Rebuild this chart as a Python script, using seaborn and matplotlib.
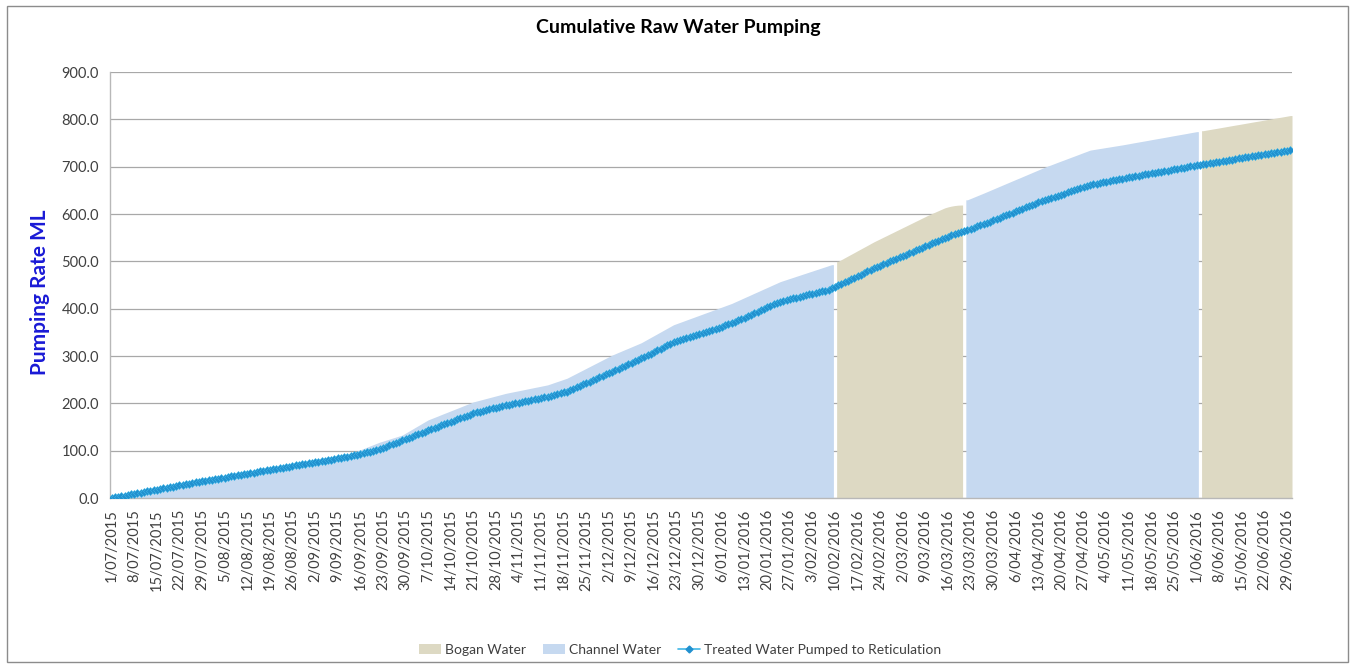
import numpy as np
import pandas as pd
import matplotlib
matplotlib.use("Agg")
import matplotlib.pyplot as plt
from matplotlib.patches import Patch, Rectangle
from matplotlib.lines import Line2D
import seaborn as sns

# ---------------- data ----------------
start_date = "2015-07-01"

# Cumulative treated water pumped to reticulation (ML), daily 1/07/2015 - 30/06/2016
treated = [
    0.0, 1.3, 2.5, 3.8, 5.0, 6.3, 7.6, 8.8, 10.1, 11.3, 12.6, 13.9, 15.1, 16.4, 17.6, 18.9, 20.2, 21.4, 22.7, 23.9, 25.2, 26.5, 27.7, 29.0, 30.2, 31.5, 32.8, 34.0,
    35.2, 36.3, 37.5, 38.6, 39.8, 41.0, 42.1, 43.3, 44.4, 45.6, 46.8, 47.9, 49.1, 50.2, 51.4, 52.6, 53.7, 54.9, 56.0, 57.2, 58.4, 59.5, 60.7, 61.8, 63.0, 64.2, 65.3, 66.5, 67.6, 68.8, 70.0,
    71.1, 72.3, 73.4, 74.5, 75.7, 76.8, 77.9, 79.0, 80.2, 81.3, 82.4, 83.6, 84.7, 85.8, 87.0,
    88.6, 90.2, 91.8, 93.4, 95.0, 96.6, 98.2, 99.8, 101.4, 103.0,
    105.7, 108.4, 111.1, 113.9, 116.6, 119.3, 122.0,
    124.6, 127.3, 129.9, 132.5, 135.1, 137.8, 140.4, 143.0,
    145.6, 148.1, 150.7, 153.3, 155.9, 158.4, 161.0, 163.6, 166.1, 168.7, 171.3, 173.9, 176.4, 179.0,
    180.7, 182.4, 184.1, 185.8, 187.5, 189.2, 190.9, 192.6, 194.3, 196.0,
    197.4, 198.8, 200.2, 201.5, 202.9, 204.3, 205.7, 207.1, 208.5, 209.8, 211.2, 212.6, 214.0,
    215.8, 217.7, 219.5, 221.3, 223.2, 225.0,
    228.0, 231.0, 234.0, 237.0, 240.0, 243.0, 246.0, 249.0, 252.0, 255.0, 258.0, 261.0, 264.0, 267.0,
    270.1, 273.2, 276.3, 279.4, 282.6, 285.7, 288.8, 291.9, 295.0,
    298.4, 301.8, 305.2, 308.6, 312.0, 315.4, 318.8, 322.2, 325.6, 329.0,
    331.2, 333.4, 335.7, 337.9, 340.1, 342.3, 344.6, 346.8, 349.0, 351.2, 353.4, 355.7, 357.9, 360.1, 362.3, 364.6, 366.8, 369.0,
    372.1, 375.1, 378.2, 381.3, 384.3, 387.4, 390.5, 393.5, 396.6, 399.7, 402.7, 405.8, 408.9, 411.9, 415.0,
    416.7, 418.3, 420.0, 421.7, 423.3, 425.0, 426.7, 428.3, 430.0, 431.7, 433.3, 435.0, 436.7, 438.3, 440.0,
    443.2, 446.4, 449.6, 452.9, 456.1, 459.3, 462.5, 465.7, 468.9, 472.1, 475.4, 478.6, 481.8, 485.0,
    487.9, 490.9, 493.8, 496.8, 499.7, 502.6, 505.6, 508.5, 511.5, 514.4, 517.4, 520.3, 523.2, 526.2, 529.1, 532.1, 535.0,
    537.9, 540.7, 543.6, 546.4, 549.3, 552.1, 555.0,
    557.3, 559.7, 562.0, 564.3, 566.7, 569.0, 571.3, 573.7, 576.0,
    578.7, 581.4, 584.1, 586.8, 589.5, 592.2, 594.9, 597.6, 600.3, 603.0, 605.7, 608.4, 611.1, 613.8, 616.5, 619.2, 621.9, 624.6, 627.3, 630.0,
    632.2, 634.4, 636.6, 638.9, 641.1, 643.3, 645.5, 647.7, 649.9, 652.1, 654.4, 656.6, 658.8, 661.0,
    662.4, 663.8, 665.2, 666.6, 668.0, 669.4, 670.8, 672.2, 673.6, 675.0,
    676.2, 677.4, 678.6, 679.8, 681.0, 682.3, 683.5, 684.7, 685.9, 687.1, 688.3, 689.5, 690.7, 691.9, 693.1, 694.3, 695.5, 696.7, 697.9, 699.2, 700.4, 701.6, 702.8, 704.0,
    705.1, 706.2, 707.3, 708.4, 709.5, 710.6, 711.8, 712.9, 714.0, 715.1, 716.2, 717.3, 718.4, 719.5, 720.6, 721.7, 722.8, 723.9, 725.0, 726.1, 727.2, 728.4, 729.5, 730.6, 731.7, 732.8, 733.9, 735.0,
]

# Cumulative raw water pumped (ML), daily
raw_total = [
    0.0, 1.3, 2.5, 3.8, 5.0, 6.3, 7.6, 8.8, 10.1, 11.3, 12.6, 13.9, 15.1, 16.4, 17.6, 18.9, 20.2, 21.4, 22.7, 23.9, 25.2, 26.5, 27.7, 29.0, 30.2, 31.5, 32.8, 34.0,
    35.2, 36.3, 37.5, 38.6, 39.8, 41.0, 42.1, 43.3, 44.4, 45.6, 46.8, 47.9, 49.1, 50.2, 51.4, 52.6, 53.7, 54.9, 56.0, 57.2, 58.4, 59.5, 60.7, 61.8, 63.0, 64.2, 65.3, 66.5, 67.6, 68.8, 70.0,
    71.1, 72.3, 73.4, 74.6, 75.8, 77.0,
    78.6, 80.1, 81.7, 83.2, 84.8, 86.3, 87.9, 89.4, 91.0,
    93.7, 96.4, 99.1, 101.8, 104.5, 107.2, 109.9, 112.6, 115.3, 118.0,
    120.1, 122.3, 124.4, 126.6, 128.7, 130.9, 133.0,
    137.0, 141.0, 145.0, 149.0, 153.0, 157.0, 161.0, 165.0,
    167.7, 170.4, 173.1, 175.9, 178.6, 181.3, 184.0, 186.7, 189.4, 192.1, 194.9, 197.6, 200.3, 203.0,
    204.8, 206.6, 208.4, 210.2, 212.0, 213.8, 215.6, 217.4, 219.2, 221.0,
    222.4, 223.8, 225.2, 226.5, 227.9, 229.3, 230.7, 232.1, 233.5, 234.8, 236.2, 237.6, 239.0,
    241.3, 243.7, 246.0, 248.3, 250.7, 253.0,
    256.5, 260.0, 263.5, 267.0, 270.5, 274.0, 277.5, 281.0, 284.5, 288.0, 291.5, 295.0, 298.5, 302.0,
    304.9, 307.8, 310.7, 313.6, 316.4, 319.3, 322.2, 325.1, 328.0,
    331.8, 335.6, 339.4, 343.2, 347.0, 350.8, 354.6, 358.4, 362.2, 366.0,
    368.5, 371.0, 373.5, 376.0, 378.5, 381.0, 383.5, 386.0, 388.5, 391.0, 393.5, 396.0, 398.5, 401.0, 403.5, 406.0, 408.5, 411.0,
    414.1, 417.1, 420.2, 423.3, 426.3, 429.4, 432.5, 435.5, 438.6, 441.7, 444.7, 447.8, 450.9, 453.9, 457.0,
    459.3, 461.5, 463.8, 466.0, 468.3, 470.5, 472.8, 475.0, 477.3, 479.5, 481.8, 484.0, 486.3, 488.5, 490.8, 493.0,
    496.5,
    500.0, 503.7, 507.5, 511.2, 514.9, 518.6, 522.4, 526.1, 529.8, 533.5, 537.3, 541.0,
    544.4, 547.7, 551.1, 554.4, 557.8, 561.1, 564.5, 567.8, 571.2, 574.5, 577.9, 581.2, 584.6, 587.9, 591.3, 594.6, 598.0,
    601.0, 604.0, 607.0, 610.0, 613.0,
    615.0, 616.6, 617.8, 618.6, 619.0,
    624.5,
    630.0, 632.8, 635.6, 638.4, 641.2, 644.0,
    646.9, 649.8, 652.7, 655.6, 658.5, 661.4, 664.3, 667.2, 670.1, 673.0, 675.8, 678.7, 681.6, 684.5, 687.4, 690.3, 693.2, 696.1, 699.0,
    701.6, 704.1, 706.7, 709.3, 711.9, 714.4, 717.0, 719.6, 722.1, 724.7, 727.3, 729.9, 732.4, 735.0,
    736.1, 737.2, 738.3, 739.4, 740.5, 741.6, 742.7, 743.8, 744.9, 746.0,
    747.2, 748.4, 749.7, 750.9, 752.1, 753.3, 754.5, 755.7, 757.0, 758.2, 759.4, 760.6, 761.8, 763.0, 764.3, 765.5, 766.7, 767.9, 769.1, 770.3, 771.6, 772.8, 774.0,
    775.0,
    776.0, 777.2, 778.4, 779.6, 780.7, 781.9, 783.1, 784.3, 785.5, 786.7, 787.9, 789.0, 790.2, 791.4, 792.6, 793.8, 795.0, 796.1, 797.3, 798.5, 799.7, 800.9, 802.1, 803.3, 804.4, 805.6, 806.8, 808.0,
]

# Raw water source periods (source, first day, last day)
source_names = ["Channel Water", "Bogan Water", "Channel Water", "Bogan Water"]
source_starts = ["2015-07-01", "2016-02-11", "2016-03-22", "2016-06-03"]
source_ends = ["2016-02-09", "2016-03-20", "2016-06-01", "2016-06-30"]

tick_labels = [
    "1/07/2015", "8/07/2015", "15/07/2015", "22/07/2015", "29/07/2015", "5/08/2015", "12/08/2015",
    "19/08/2015", "26/08/2015", "2/09/2015", "9/09/2015", "16/09/2015", "23/09/2015", "30/09/2015",
    "7/10/2015", "14/10/2015", "21/10/2015", "28/10/2015", "4/11/2015", "11/11/2015", "18/11/2015",
    "25/11/2015", "2/12/2015", "9/12/2015", "16/12/2015", "23/12/2015", "30/12/2015", "6/01/2016",
    "13/01/2016", "20/01/2016", "27/01/2016", "3/02/2016", "10/02/2016", "17/02/2016", "24/02/2016",
    "2/03/2016", "9/03/2016", "16/03/2016", "23/03/2016", "30/03/2016", "6/04/2016", "13/04/2016",
    "20/04/2016", "27/04/2016", "4/05/2016", "11/05/2016", "18/05/2016", "25/05/2016", "1/06/2016",
    "8/06/2016", "15/06/2016", "22/06/2016", "29/06/2016",
]

assert len(treated) == len(raw_total), (len(treated), len(raw_total))

# ---------------- style ----------------
sns.set_theme(style="white")
plt.rcParams["font.family"] = ["Lato", "DejaVu Sans"]

area_colors = {"Bogan Water": "#ddd9c3", "Channel Water": "#c6d9f0"}
line_color = "#3fb6e6"
marker_color = "#2190cf"
text_color = "#404040"
grid_color = "#a8a8a8"

W, H = 1356, 666
fig = plt.figure(figsize=(W / 100, H / 100), dpi=100)
ax = fig.add_axes([110 / W, 1 - 498 / H, (1292 - 110) / W, (498 - 72) / H])

days = np.arange(len(treated))
dates = pd.date_range(start_date, periods=len(treated), freq="D")
df = pd.DataFrame({"day": days, "date": dates, "treated": treated, "raw": raw_total})

# areas (one per source period)
for name, s, e in zip(source_names, source_starts, source_ends):
    seg = df[(df["date"] >= pd.Timestamp(s)) & (df["date"] <= pd.Timestamp(e))]
    x = np.r_[seg["day"].iloc[0] - 0.5, seg["day"].values, seg["day"].iloc[-1] + 0.5]
    y = np.r_[seg["raw"].iloc[0], seg["raw"].values, seg["raw"].iloc[-1]]
    ax.fill_between(x, 0, y, color=area_colors[name], linewidth=0, zorder=1)

# treated water line
sns.lineplot(data=df, x="day", y="treated", ax=ax, color=line_color, linewidth=1.2,
             marker="D", markersize=4.0, markerfacecolor=marker_color,
             markeredgecolor=line_color, markeredgewidth=0.4, zorder=3, legend=False)

ax.set_xlim(-0.5, len(days) - 0.5)
ax.set_ylim(0, 900)
yt = np.arange(0, 901, 100)
ax.set_yticks(yt)
ax.set_yticklabels([f"{v:.1f}" for v in yt], fontsize=10.5, color=text_color)
ax.set_xticks(np.arange(0, len(days), 7))
ax.set_xticklabels(tick_labels, rotation=90, fontsize=10.5, color=text_color)
ax.tick_params(axis="both", direction="out", length=5, width=0.8, color=grid_color, pad=3)

ax.yaxis.grid(True, color=grid_color, linewidth=0.9)
ax.xaxis.grid(False)
ax.set_axisbelow(True)
for side in ["top", "right"]:
    ax.spines[side].set_visible(False)
for side in ["left", "bottom"]:
    ax.spines[side].set_color("#b8b8b8")
    ax.spines[side].set_linewidth(1.0)
ax.set_xlabel("")
ax.set_ylabel("")

fig.text(678 / W, 1 - 28 / H, "Cumulative Raw Water Pumping", ha="center", va="center",
         fontsize=14, fontweight="bold", color="#000000")
fig.text(40 / W, 1 - 292 / H, "Pumping Rate ML", ha="center", va="center", rotation=90,
         fontsize=15, fontweight="bold", color="#1a1ad6")

handles = [
    Patch(facecolor=area_colors["Bogan Water"], edgecolor="none", label="Bogan Water"),
    Patch(facecolor=area_colors["Channel Water"], edgecolor="none", label="Channel Water"),
    Line2D([0], [0], color=line_color, linewidth=1.2, marker="D", markersize=3.5,
           markerfacecolor=marker_color, markeredgecolor=marker_color,
           label="Treated Water Pumped to Reticulation"),
]
leg = fig.legend(handles=handles, loc="center", bbox_to_anchor=(680 / W, 1 - 650 / H), ncol=3,
                 frameon=False, fontsize=10, handlelength=1.6, handleheight=0.7,
                 columnspacing=1.2, handletextpad=0.3)
for t in leg.get_texts():
    t.set_color(text_color)

fig.add_artist(Rectangle((7 / W, 1 - 662 / H), (1348 - 7) / W, (662 - 6) / H,
                         transform=fig.transFigure, fill=False, edgecolor="#8c8c8c", linewidth=1.0))

fig.savefig("out.png", dpi=100)
